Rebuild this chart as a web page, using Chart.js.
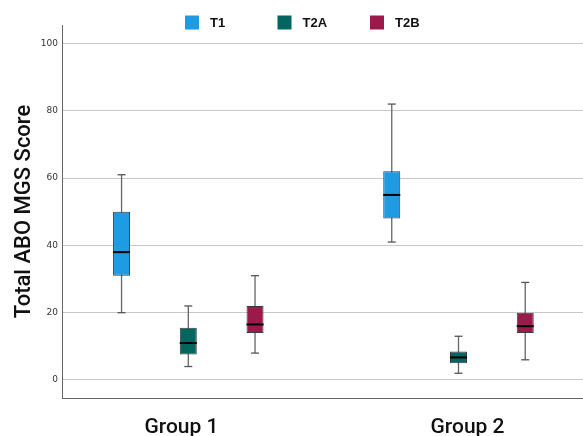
<!DOCTYPE html>
<html>
<head>
<meta charset="utf-8">
<script src="https://cdn.jsdelivr.net/npm/chart.js@4"></script>
<style>
  html, body { margin: 0; padding: 0; background: #fff; }
  #wrap { width: 583px; height: 436px; position: relative; }
</style>
</head>
<body>
<div id="wrap"><canvas id="boxChart"></canvas></div>
<script>
// --- Data ---
const groups = ['Group 1', 'Group 2'];
const seriesNames = ['T1', 'T2A', 'T2B'];
const seriesColors = ['#1e9be3', '#00665f', '#9b1a4b'];
// each row = one series, each column = one group
const whiskerLow  = [[20, 41], [4, 2], [8, 6]];
const quartile1   = [[31, 48], [7.6, 5], [14, 14]];
const medians     = [[38, 55], [11, 6.7], [16.5, 16]];
const quartile3   = [[50, 62], [15.5, 8.5], [22, 20]];
const whiskerHigh = [[61, 82], [22, 13], [31, 29]];
const yTicks = [0, 20, 40, 60, 80, 100];

const SERIES_GAP = 0.247;   // offset of series inside a group, in x units
const xPos = (s, g) => g + (s - 1) * SERIES_GAP;

function buildDatasets() {
    const sets = [];
    seriesNames.forEach((name, s) => {
        // box from Q1 to Q3
        sets.push({
            type: 'bar',
            label: name,
            isBox: true,
            data: groups.map((_, g) => ({ x: xPos(s, g), y: [quartile1[s][g], quartile3[s][g]] })),
            backgroundColor: seriesColors[s],
            borderColor: '#3a3a3a',
            borderWidth: 1,
            borderSkipped: false,
            grouped: false,
            maxBarThickness: 17,
            order: 1
        });
        // whisker stems, broken between groups
        const stem = [];
        groups.forEach((_, g) => {
            stem.push({ x: xPos(s, g), y: whiskerLow[s][g] });
            stem.push({ x: xPos(s, g), y: whiskerHigh[s][g] });
            stem.push({ x: xPos(s, g), y: null });
        });
        sets.push({
            type: 'line',
            label: name + ' whisker',
            data: stem,
            borderColor: '#666',
            borderWidth: 1.3,
            pointRadius: 0,
            spanGaps: false,
            order: 3
        });
        // whisker caps
        sets.push({
            type: 'scatter',
            label: name + ' caps',
            data: groups.flatMap((_, g) => [
                { x: xPos(s, g), y: whiskerLow[s][g] },
                { x: xPos(s, g), y: whiskerHigh[s][g] }
            ]),
            pointStyle: 'line',
            pointRadius: 4,
            borderColor: '#555',
            borderWidth: 1.3,
            order: 2
        });
        // median line
        sets.push({
            type: 'scatter',
            label: name + ' median',
            data: groups.map((_, g) => ({ x: xPos(s, g), y: medians[s][g] })),
            pointStyle: 'line',
            pointRadius: 8.5,
            borderColor: '#000',
            borderWidth: 2,
            order: 0
        });
    });
    return sets;
}

// simple top legend, drawn above the plot like the reference
const topLegend = {
    id: 'topLegend',
    afterDraw(chart, args, opts) {
        const ctx = chart.ctx;
        const boxes = chart.data.datasets.filter(d => d.isBox);
        ctx.save();
        ctx.font = 'bold 13px "Liberation Sans", Arial, sans-serif';
        ctx.textBaseline = 'middle';
        boxes.forEach((d, i) => {
            const x = opts.startX + i * opts.step;
            ctx.fillStyle = d.backgroundColor;
            ctx.fillRect(x, opts.y - 7, 14, 14);
            ctx.fillStyle = '#111';
            ctx.fillText(d.label, x + 25, opts.y + 0.5);
        });
        ctx.restore();
    }
};

document.addEventListener('DOMContentLoaded', () => {
    const ctx = document.getElementById('boxChart').getContext('2d');
    new Chart(ctx, {
        type: 'bar',
        data: { datasets: buildDatasets() },
        plugins: [topLegend],
        options: {
            responsive: true,
            maintainAspectRatio: false,
            animation: false,
            layout: { autoPadding: false, padding: { top: 25, left: 0, right: 0, bottom: 0 } },
            plugins: {
                legend: { display: false },
                tooltip: { enabled: false },
                topLegend: { startX: 185, step: 92.5, y: 22.5 }
            },
            scales: {
                x: {
                    type: 'linear',
                    display: false,
                    offset: false,
                    min: -0.4674,
                    max: 1.4608
                },
                groupAxis: {
                    type: 'linear',
                    position: 'bottom',
                    offset: false,
                    min: -0.4178,
                    max: 1.4038,
                    afterBuildTicks: (scale) => { scale.ticks = groups.map((_, g) => ({ value: g })); },
                    afterFit: (scale) => {
                        scale.height = 38;
                        scale.paddingLeft = 0;
                        scale.paddingRight = 0;
                    },
                    grid: { display: false, drawTicks: false, offset: false },
                    border: { display: true, color: '#666', width: 1 },
                    ticks: {
                        autoSkip: false,
                        maxRotation: 0,
                        padding: 17,
                        color: '#111',
                        font: { family: 'Roboto, "Liberation Sans", sans-serif', size: 21, weight: '500' },
                        callback: (v, i) => groups[i]
                    }
                },
                y: {
                    min: -5.35,
                    max: 105.5,
                    afterBuildTicks: (scale) => { scale.ticks = yTicks.map(v => ({ value: v })); },
                    afterFit: (scale) => {
                        scale.width = 62;
                        scale.paddingTop = 0;
                        scale.paddingBottom = 0;
                    },
                    grid: { color: '#c8c8c8', lineWidth: 1, drawTicks: false },
                    border: { display: true, color: '#666', width: 1 },
                    ticks: {
                        padding: 4,
                        color: '#333',
                        font: { family: '"DejaVu Sans", sans-serif', size: 9 }
                    },
                    title: {
                        display: true,
                        text: 'Total ABO MGS Score',
                        color: '#111',
                        padding: { top: 11, bottom: 0 },
                        font: { family: 'Roboto, "Liberation Sans", sans-serif', size: 22, weight: '500' }
                    }
                }
            }
        }
    });
});
</script>
</body>
</html>
